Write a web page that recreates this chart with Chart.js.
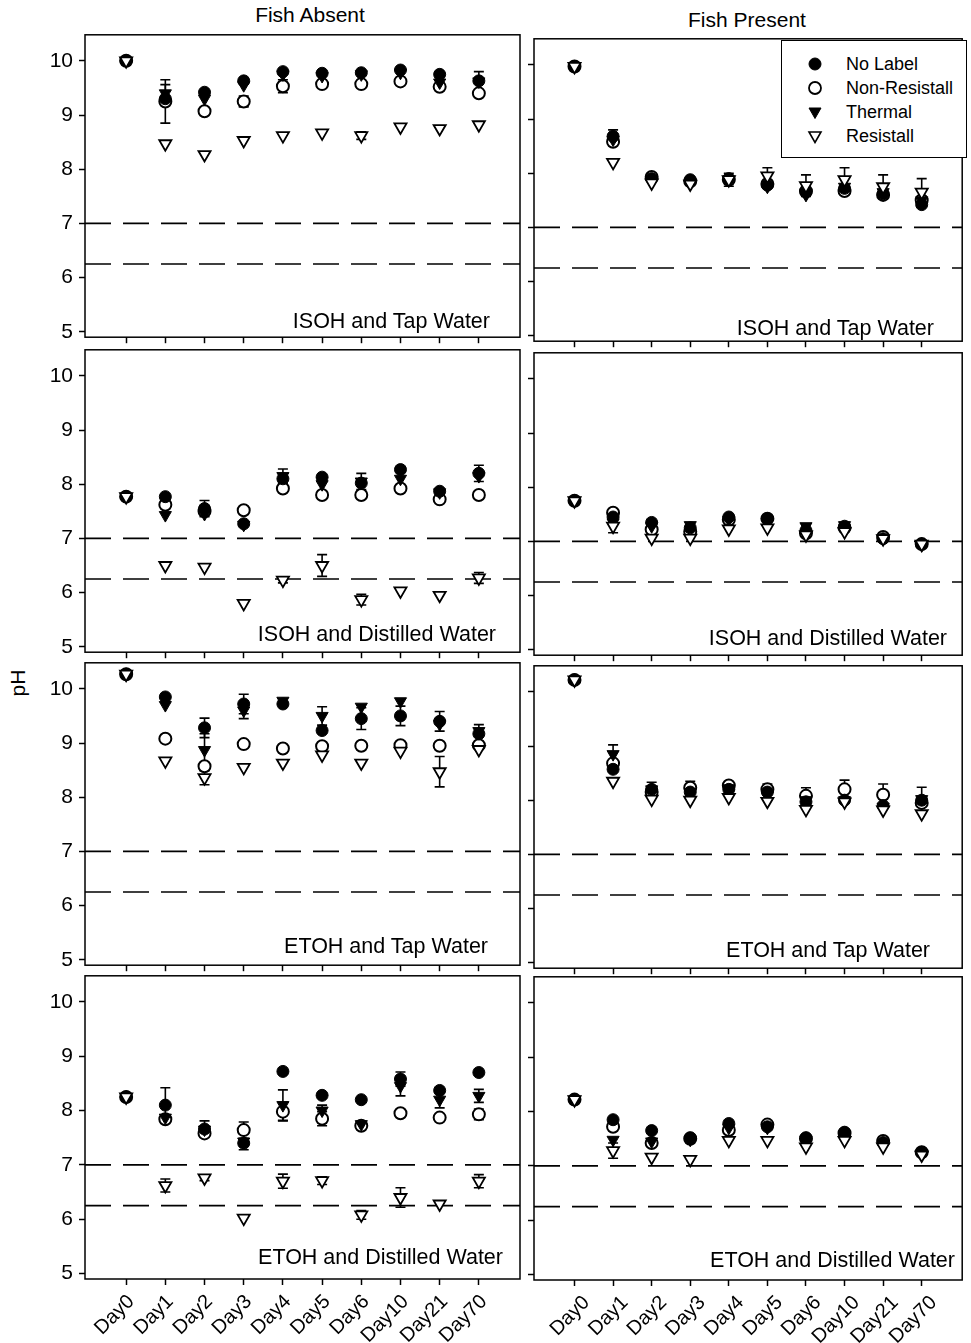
<!DOCTYPE html>
<html>
<head>
<meta charset="utf-8">
<script src="https://cdn.jsdelivr.net/npm/chart.js@4.4.1/dist/chart.umd.min.js"></script>
<style>
html,body{margin:0;padding:0;background:#fff;}
body{width:971px;height:1343px;position:relative;overflow:hidden;font-family:"Liberation Sans",Arial,Helvetica,sans-serif;color:#000;}
.panel{position:absolute;}
.panel canvas{display:block;}
.txt{position:absolute;white-space:nowrap;line-height:22px;}
.plabel{position:absolute;white-space:nowrap;line-height:22px;font-size:21.5px;text-align:right;}
#legend{position:absolute;left:781px;top:40px;width:184px;height:116px;border:1.5px solid #000;background:#fff;}
#legend .item{position:absolute;left:0;height:20px;line-height:20px;font-size:18px;}
#legend svg{position:absolute;left:25px;top:2px;}
#legend span{position:absolute;left:64px;top:0;white-space:nowrap;}
</style>
</head>
<body>

<div class="txt" style="left:210px;top:4px;width:200px;text-align:center;font-size:21px;">Fish Absent</div>
<div class="txt" style="left:647px;top:9px;width:200px;text-align:center;font-size:21px;">Fish Present</div>
<div class="txt" style="left:-12px;top:672px;width:60px;text-align:center;font-size:21px;transform:rotate(-90deg);">pH</div>

<div id="charts"></div>

<div id="legend">
  <div class="item" style="top:13px;"><svg width="16" height="16"><circle cx="8" cy="8" r="6" fill="#000" stroke="#000" stroke-width="1"/></svg><span>No Label</span></div>
  <div class="item" style="top:37px;"><svg width="16" height="16"><circle cx="8" cy="8" r="6" fill="#fff" stroke="#000" stroke-width="1.8"/></svg><span>Non-Resistall</span></div>
  <div class="item" style="top:61px;"><svg width="16" height="16"><polygon points="2,4 14,4 8,14.5" fill="#000" stroke="#000" stroke-width="1"/></svg><span>Thermal</span></div>
  <div class="item" style="top:85px;"><svg width="16" height="16"><polygon points="2,4 14,4 8,14.5" fill="#fff" stroke="#000" stroke-width="1.6"/></svg><span>Resistall</span></div>
</div>

<script>
// ---------------- DATA ----------------
const dayLabels = ['Day0','Day1','Day2','Day3','Day4','Day5','Day6','Day10','Day21','Day70'];
const seriesNames = ['No Label','Non-Resistall','Thermal','Resistall'];
const yTickValues = [5,6,7,8,9,10];
const refLines = [7.0, 6.25];

// Fish Absent - ISOH and Tap Water
const absIsohTap_noLabel = [10.0, 9.30, 9.42, 9.63, 9.80, 9.77, 9.78, 9.83, 9.75, 9.63];
const absIsohTap_nonRes  = [10.0, 9.25, 9.07, 9.25, 9.53, 9.57, 9.57, 9.62, 9.52, 9.40];
const absIsohTap_thermal = [10.0, 9.40, 9.30, 9.55, 9.75, 9.72, 9.75, 9.78, 9.60, 9.62];
const absIsohTap_resist  = [10.0, 8.47, 8.27, 8.53, 8.62, 8.67, 8.62, 8.78, 8.75, 8.82];
const absIsohTap_noLabelErr = [0,0,0,0,0,0,0,0,0,0];
const absIsohTap_nonResErr  = [0,0.40,0,0.10,0.12,0,0,0,0,0];
const absIsohTap_thermalErr = [0,0.16,0,0,0,0,0,0,0,0.18];
const absIsohTap_resistErr  = [0,0,0,0,0,0,0.07,0,0,0];

// Fish Present - ISOH and Tap Water
const presIsohTap_noLabel = [9.97, 8.68, 7.90, 7.88, 7.90, 7.78, 7.65, 7.72, 7.62, 7.42];
const presIsohTap_nonRes  = [9.97, 8.58, 7.93, 7.85, 7.88, 7.80, 7.67, 7.67, 7.60, 7.50];
const presIsohTap_thermal = [9.97, 8.62, 7.90, 7.83, 7.88, 7.75, 7.60, 7.75, 7.65, 7.50];
const presIsohTap_resist  = [9.97, 8.20, 7.82, 7.80, 7.88, 7.95, 7.77, 7.88, 7.75, 7.65];
const presIsohTap_noLabelErr = [0,0.12,0,0,0,0,0,0,0,0];
const presIsohTap_nonResErr  = [0,0,0,0,0,0,0,0,0,0];
const presIsohTap_thermalErr = [0,0,0,0,0,0,0,0,0,0];
const presIsohTap_resistErr  = [0,0,0,0,0.12,0.15,0.20,0.22,0.22,0.25];

// Fish Absent - ISOH and Distilled Water
const absIsohDist_noLabel = [7.77, 7.77, 7.55, 7.27, 8.10, 8.13, 8.02, 8.27, 7.87, 8.20];
const absIsohDist_nonRes  = [7.77, 7.62, 7.50, 7.52, 7.92, 7.80, 7.80, 7.92, 7.72, 7.80];
const absIsohDist_thermal = [7.77, 7.43, 7.45, 7.25, 8.15, 8.00, 8.05, 8.10, 7.85, 8.15];
const absIsohDist_resist  = [7.77, 6.50, 6.47, 5.80, 6.23, 6.50, 5.87, 6.03, 5.95, 6.27];
const absIsohDist_noLabelErr = [0,0,0.15,0,0,0,0,0,0,0.15];
const absIsohDist_nonResErr  = [0,0,0,0,0,0,0,0,0,0];
const absIsohDist_thermalErr = [0,0,0,0,0.13,0,0.15,0,0,0];
const absIsohDist_resistErr  = [0,0,0,0,0.05,0.20,0.10,0,0,0.10];

// Fish Present - ISOH and Distilled Water
const presIsohDist_noLabel = [7.75, 7.45, 7.35, 7.25, 7.45, 7.42, 7.20, 7.28, 7.05, 6.95];
const presIsohDist_nonRes  = [7.75, 7.53, 7.22, 7.18, 7.40, 7.42, 7.15, 7.25, 7.08, 6.95];
const presIsohDist_thermal = [7.75, 7.35, 7.28, 7.30, 7.40, 7.35, 7.28, 7.30, 7.05, 6.93];
const presIsohDist_resist  = [7.75, 7.28, 7.06, 7.06, 7.23, 7.25, 7.12, 7.18, 7.05, 6.95];
const presIsohDist_noLabelErr = [0,0,0,0,0,0,0,0,0,0];
const presIsohDist_nonResErr  = [0,0,0,0,0,0,0,0,0,0];
const presIsohDist_thermalErr = [0,0,0,0,0,0,0,0,0,0];
const presIsohDist_resistErr  = [0,0.12,0,0,0,0,0,0,0,0];

// Fish Absent - ETOH and Tap Water
const absEtohTap_noLabel = [10.27, 9.85, 9.28, 9.72, 9.72, 9.23, 9.45, 9.50, 9.40, 9.17];
const absEtohTap_nonRes  = [10.27, 9.08, 8.57, 8.98, 8.90, 8.94, 8.95, 8.96, 8.95, 8.96];
const absEtohTap_thermal = [10.27, 9.70, 8.87, 9.60, 9.78, 9.50, 9.67, 9.77, 9.35, 9.22];
const absEtohTap_resist  = [10.27, 8.67, 8.36, 8.55, 8.63, 8.78, 8.63, 8.85, 8.47, 8.88];
const absEtohTap_noLabelErr = [0,0,0.18,0.18,0,0,0.20,0.18,0.18,0.17];
const absEtohTap_nonResErr  = [0,0,0,0,0,0,0,0,0,0];
const absEtohTap_thermalErr = [0,0,0.30,0.15,0,0.17,0,0,0,0];
const absEtohTap_resistErr  = [0,0,0.13,0,0,0,0,0,0.28,0];

// Fish Present - ETOH and Tap Water
const presEtohTap_noLabel = [10.22, 8.57, 8.20, 8.15, 8.20, 8.15, 7.97, 8.00, 7.90, 8.00];
const presEtohTap_nonRes  = [10.22, 8.68, 8.15, 8.23, 8.27, 8.20, 8.08, 8.20, 8.10, 7.95];
const presEtohTap_thermal = [10.22, 8.85, 8.20, 8.15, 8.22, 8.10, 8.00, 8.00, 7.88, 8.02];
const presEtohTap_resist  = [10.22, 8.35, 8.02, 8.00, 8.05, 7.98, 7.83, 7.97, 7.82, 7.75];
const presEtohTap_noLabelErr = [0,0,0.13,0,0,0,0,0,0,0];
const presEtohTap_nonResErr  = [0,0,0,0.12,0.05,0.10,0.15,0.17,0.20,0];
const presEtohTap_thermalErr = [0,0.17,0,0,0,0,0,0,0,0.22];
const presEtohTap_resistErr  = [0,0,0,0,0,0,0,0,0,0];

// Fish Absent - ETOH and Distilled Water
const absEtohDist_noLabel = [8.25, 8.10, 7.66, 7.40, 8.72, 8.28, 8.20, 8.58, 8.37, 8.70];
const absEtohDist_nonRes  = [8.25, 7.84, 7.58, 7.64, 7.98, 7.85, 7.72, 7.95, 7.87, 7.93];
const absEtohDist_thermal = [8.25, 7.87, 7.65, 7.43, 8.10, 8.00, 7.75, 8.45, 8.20, 8.27];
const absEtohDist_resist  = [8.25, 6.62, 6.76, 6.02, 6.70, 6.71, 6.08, 6.40, 6.28, 6.70];
const absEtohDist_noLabelErr = [0,0.32,0.15,0,0,0,0,0.13,0,0];
const absEtohDist_nonResErr  = [0,0,0,0.15,0.17,0.13,0,0,0,0.10];
const absEtohDist_thermalErr = [0,0,0,0.15,0.28,0.10,0,0.18,0.15,0.12];
const absEtohDist_resistErr  = [0,0.12,0.05,0,0.13,0.07,0.08,0.18,0,0.12];

// Fish Present - ETOH and Distilled Water
const presEtohDist_noLabel = [8.22, 7.85, 7.65, 7.52, 7.78, 7.72, 7.52, 7.62, 7.43, 7.25];
const presEtohDist_nonRes  = [8.22, 7.72, 7.42, 7.50, 7.66, 7.76, 7.50, 7.60, 7.46, 7.25];
const presEtohDist_thermal = [8.22, 7.48, 7.45, 7.48, 7.70, 7.70, 7.48, 7.58, 7.42, 7.22];
const presEtohDist_resist  = [8.22, 7.28, 7.16, 7.12, 7.47, 7.47, 7.35, 7.47, 7.35, 7.20];
const presEtohDist_noLabelErr = [0,0,0,0,0,0,0,0,0,0];
const presEtohDist_nonResErr  = [0,0,0,0,0,0,0,0,0,0];
const presEtohDist_thermalErr = [0,0,0,0,0,0,0,0,0,0];
const presEtohDist_resistErr  = [0,0.14,0,0,0,0,0,0,0,0];

const panelLabels = ['ISOH and Tap Water','ISOH and Distilled Water','ETOH and Tap Water','ETOH and Distilled Water'];

// ---------------- LAYOUT ----------------
Chart.defaults.font.family = '"Liberation Sans", Arial, Helvetica, sans-serif';
Chart.defaults.color = '#000';

const X_MIN = -1.05, X_MAX = 10.05, Y_MIN = 4.9, Y_MAX = 10.48;
const PANEL_H = 304, PAD_TOP = 8;
const COLS = {
  L: {divLeft: 0, divWidth: 530, yAxisW: 85, padRight: 10, tops: [34, 349, 662, 975], showY: true, labelShift: 5},
  R: {divLeft: 525, divWidth: 446, yAxisW: 9, padRight: 6, tops: [38, 352, 665, 976], showY: false, labelShift: 12}
};
// label placement (right edge x, text top y) per panel
const labelPos = {
  L: [[490, 310], [496, 623], [488, 935], [503, 1246]],
  R: [[934, 317], [947, 627], [930, 939], [955, 1249]]
};

const panels = [
  {col:'L', row:0, s:[absIsohTap_noLabel, absIsohTap_nonRes, absIsohTap_thermal, absIsohTap_resist], e:[absIsohTap_noLabelErr, absIsohTap_nonResErr, absIsohTap_thermalErr, absIsohTap_resistErr]},
  {col:'R', row:0, s:[presIsohTap_noLabel, presIsohTap_nonRes, presIsohTap_thermal, presIsohTap_resist], e:[presIsohTap_noLabelErr, presIsohTap_nonResErr, presIsohTap_thermalErr, presIsohTap_resistErr]},
  {col:'L', row:1, s:[absIsohDist_noLabel, absIsohDist_nonRes, absIsohDist_thermal, absIsohDist_resist], e:[absIsohDist_noLabelErr, absIsohDist_nonResErr, absIsohDist_thermalErr, absIsohDist_resistErr]},
  {col:'R', row:1, s:[presIsohDist_noLabel, presIsohDist_nonRes, presIsohDist_thermal, presIsohDist_resist], e:[presIsohDist_noLabelErr, presIsohDist_nonResErr, presIsohDist_thermalErr, presIsohDist_resistErr]},
  {col:'L', row:2, s:[absEtohTap_noLabel, absEtohTap_nonRes, absEtohTap_thermal, absEtohTap_resist], e:[absEtohTap_noLabelErr, absEtohTap_nonResErr, absEtohTap_thermalErr, absEtohTap_resistErr]},
  {col:'R', row:2, s:[presEtohTap_noLabel, presEtohTap_nonRes, presEtohTap_thermal, presEtohTap_resist], e:[presEtohTap_noLabelErr, presEtohTap_nonResErr, presEtohTap_thermalErr, presEtohTap_resistErr]},
  {col:'L', row:3, s:[absEtohDist_noLabel, absEtohDist_nonRes, absEtohDist_thermal, absEtohDist_resist], e:[absEtohDist_noLabelErr, absEtohDist_nonResErr, absEtohDist_thermalErr, absEtohDist_resistErr]},
  {col:'R', row:3, s:[presEtohDist_noLabel, presEtohDist_nonRes, presEtohDist_thermal, presEtohDist_resist], e:[presEtohDist_noLabelErr, presEtohDist_nonResErr, presEtohDist_thermalErr, presEtohDist_resistErr]}
];

// marker styles per series (index matches seriesNames)
const markerStyles = [
  {pointStyle:'circle', pointRadius:6, pointRotation:0, backgroundColor:'#000', borderColor:'#000', borderWidth:1, order:2},
  {pointStyle:'circle', pointRadius:6, pointRotation:0, backgroundColor:'#fff', borderColor:'#000', borderWidth:2, order:3},
  {pointStyle:'triangle', pointRadius:7, pointRotation:180, backgroundColor:'#000', borderColor:'#000', borderWidth:1, order:1},
  {pointStyle:'triangle', pointRadius:7, pointRotation:180, backgroundColor:'#fff', borderColor:'#000', borderWidth:1.8, order:0}
];

// ---------------- PLUGINS ----------------
const framePlugin = {
  id: 'frame',
  beforeDatasetsDraw(chart) {
    const a = chart.chartArea, ctx = chart.ctx;
    ctx.save();
    ctx.strokeStyle = '#000';
    ctx.lineWidth = 1.5;
    ctx.strokeRect(a.left, a.top, a.right - a.left, a.bottom - a.top);
    ctx.restore();
  }
};

const errorBarPlugin = {
  id: 'errorBars',
  beforeDatasetsDraw(chart) {
    const ctx = chart.ctx, ys = chart.scales.y;
    chart.data.datasets.forEach((ds, i) => {
      if (!ds.errors) return;
      const meta = chart.getDatasetMeta(i);
      ds.errors.forEach((err, j) => {
        if (!err) return;
        const pt = meta.data[j];
        const v = ds.data[j].y;
        const yt = ys.getPixelForValue(v + err), yb = ys.getPixelForValue(v - err);
        ctx.save();
        ctx.strokeStyle = '#000';
        ctx.lineWidth = 1.6;
        ctx.beginPath();
        ctx.moveTo(pt.x, yt); ctx.lineTo(pt.x, yb);
        ctx.moveTo(pt.x - 5, yt); ctx.lineTo(pt.x + 5, yt);
        ctx.moveTo(pt.x - 5, yb); ctx.lineTo(pt.x + 5, yb);
        ctx.stroke();
        ctx.restore();
      });
    });
  }
};

// ---------------- BUILD ----------------
const holder = document.getElementById('charts');

panels.forEach(p => {
  const c = COLS[p.col];
  const isBottom = p.row === 3;
  const xAxisH = isBottom ? 72 : 8;
  const top = c.tops[p.row];
  const div = document.createElement('div');
  div.className = 'panel';
  div.style.left = c.divLeft + 'px';
  div.style.top = (top - PAD_TOP) + 'px';
  div.style.width = c.divWidth + 'px';
  div.style.height = (PAD_TOP + PANEL_H + xAxisH) + 'px';
  const canvas = document.createElement('canvas');
  div.appendChild(canvas);
  holder.appendChild(div);

  const datasets = p.s.map((vals, k) => Object.assign({
    label: seriesNames[k],
    data: vals.map((v, i) => ({x: i, y: v})),
    errors: p.e[k],
    showLine: false
  }, markerStyles[k]));

  refLines.forEach(rv => {
    datasets.push({
      label: 'ref' + rv,
      type: 'line',
      data: [{x: X_MIN, y: rv}, {x: X_MAX, y: rv}],
      showLine: true,
      borderColor: '#000',
      borderWidth: 1.6,
      borderDash: [26, 12],
      pointRadius: 0,
      fill: false,
      order: 10
    });
  });

  new Chart(canvas, {
    type: 'scatter',
    data: {datasets},
    options: {
      responsive: true,
      maintainAspectRatio: false,
      animation: false,
      layout: {padding: {left: 0, right: c.padRight, top: PAD_TOP, bottom: 0}},
      plugins: {legend: {display: false}, tooltip: {enabled: false}, title: {display: false}},
      scales: {
        x: {
          type: 'linear',
          min: X_MIN, max: X_MAX,
          afterFit(s) { s.height = xAxisH; s.paddingLeft = 0; s.paddingRight = 0; s.paddingTop = 0; s.paddingBottom = 0; },
          afterBuildTicks(s) { s.ticks = dayLabels.map((_, i) => ({value: i})); },
          border: {display: false},
          grid: {display: true, drawOnChartArea: false, drawTicks: true, tickLength: 6, tickColor: '#000', tickWidth: 1.5},
          ticks: {
            autoSkip: false,
            includeBounds: false,
            minRotation: 45, maxRotation: 45,
            padding: 5,
            labelOffset: c.labelShift,
            font: {size: 20},
            color: '#000',
            callback: (v) => isBottom ? dayLabels[v] : ''
          }
        },
        y: {
          type: 'linear',
          min: Y_MIN, max: Y_MAX,
          afterFit(s) { s.width = c.yAxisW; s.paddingTop = 0; s.paddingBottom = 0; s.paddingLeft = 0; s.paddingRight = 0; },
          afterBuildTicks(s) { s.ticks = yTickValues.map(v => ({value: v})); },
          border: {display: false},
          grid: {display: true, drawOnChartArea: false, drawTicks: true, tickLength: 6, tickColor: '#000', tickWidth: 1.5},
          ticks: {
            includeBounds: false,
            padding: 6,
            font: {size: 21},
            color: '#000',
            callback: (v) => c.showY ? String(v) : ''
          }
        }
      }
    },
    plugins: [framePlugin, errorBarPlugin]
  });

  const lp = labelPos[p.col][p.row];
  const lab = document.createElement('div');
  lab.className = 'plabel';
  lab.textContent = panelLabels[p.row];
  lab.style.left = (lp[0] - 320) + 'px';
  lab.style.width = '320px';
  lab.style.top = lp[1] + 'px';
  document.body.appendChild(lab);
});
</script>
</body>
</html>
